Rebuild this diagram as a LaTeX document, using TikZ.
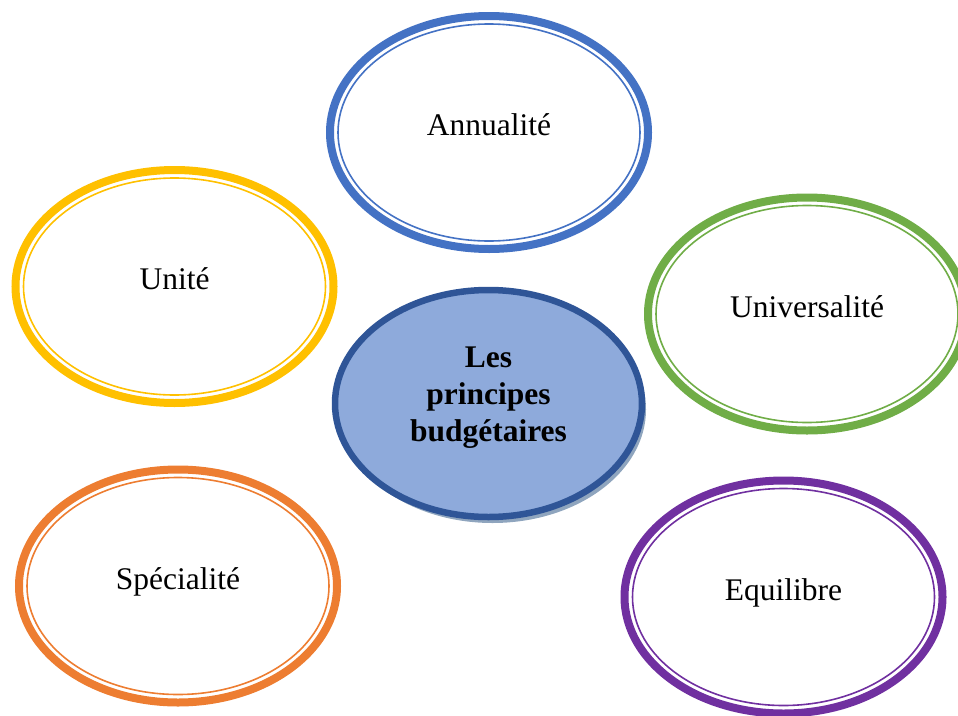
\documentclass[tikz,border=0pt]{standalone}
\usepackage{fontspec}
\setmainfont{Liberation Serif}
\usetikzlibrary{shapes.geometric,shadows}
\definecolor{annualite}{HTML}{4472C4}
\definecolor{unite}{HTML}{FFC000}
\definecolor{universalite}{HTML}{70AD47}
\definecolor{specialite}{HTML}{ED7D31}
\definecolor{equilibre}{HTML}{7030A0}
\definecolor{coeurbord}{HTML}{2F5597}
\definecolor{coeurfond}{HTML}{8EAADB}
\definecolor{ombre}{HTML}{8FA5BE}
\tikzset{
  principe/.style={ellipse,draw=#1,line width=8pt,
    minimum width=318pt,minimum height=233pt,inner sep=0pt,
    font=\fontsize{31.5}{37}\selectfont,text height=22pt,text depth=16pt},
  filet/.style={draw=#1,line width=1.6pt},
  coeur/.style={ellipse,draw=coeurbord,fill=coeurfond,line width=6.5pt,
    minimum width=307pt,minimum height=227pt,
    drop shadow={shadow xshift=4pt,shadow yshift=-6pt,fill=ombre,opacity=1}},
  titre/.style={align=center,font=\fontsize{31.5}{37}\selectfont\bfseries},
}

\begin{document}
\begin{tikzpicture}[x=1pt,y=-1pt]
\useasboundingbox (0,0) rectangle (958,715);
\node[principe=annualite] (ann) at (489,132.5) {Annualité};
\node[principe=unite] (uni) at (174.5,286.5) {Unité};
\node[principe=universalite] (univ) at (807,314) {Universalité};
\node[principe=specialite] (spec) at (178,586) {Spécialité};
\node[principe=equilibre] (equi) at (783.5,597) {Equilibre};
% filet interieur
\foreach \n/\c in {ann/annualite,uni/unite,univ/universalite,spec/specialite,equi/equilibre}
  \draw[filet=\c] (\n.center) ellipse[x radius=151pt,y radius=108.5pt];
\node[coeur] (coeur) at (488.5,403.5) {};
\node[titre] (titre) at ([yshift=6pt]coeur.center) {Les\\principes\\budgétaires};
\end{tikzpicture}
\end{document}
